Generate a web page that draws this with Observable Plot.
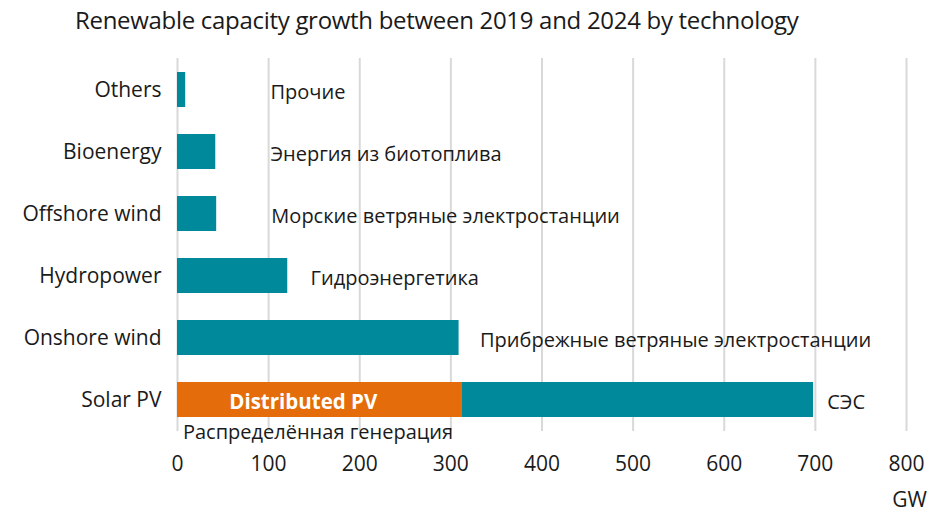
<!DOCTYPE html>
<html><head><meta charset="utf-8">
<script src="https://cdn.jsdelivr.net/npm/d3@7"></script>
<script src="https://cdn.jsdelivr.net/npm/@observablehq/plot@0.6"></script>
<style>
html,body{margin:0;padding:0;background:#fff;}
#wrap{position:relative;width:931px;height:513px;font-family:"Open Sans",sans-serif;}
#title{position:absolute;left:75px;top:3px;font-size:24px;color:#1a1a1a;white-space:nowrap;letter-spacing:-0.3px;}
#chart{position:absolute;left:0;top:0;}
</style></head>
<body><div id="wrap"><div id="chart"></div><div id="title">Renewable capacity growth between 2019 and 2024 by technology</div></div>
<script>
const technologies = ["Others","Bioenergy","Offshore wind","Hydropower","Onshore wind","Solar PV"];
const totals = [9, 42, 43, 121, 309, 698];
const distributedPV = 312;
const ruLabels = ["Прочие","Энергия из биотоплива","Морские ветряные электростанции","Гидроэнергетика","Прибрежные ветряные электростанции","СЭС"];
const labelAt = [102, 102, 103, 146, 332, 713];
const xTicks = [0,100,200,300,400,500,600,700,800];

const teal = "#00899b", orange = "#e46c0a";
const bars = technologies.map((t,i) => (t === "Solar PV"
  ? [{tech:t, x1:0, x2:distributedPV, c:orange},{tech:t, x1:distributedPV, x2:totals[i], c:teal}]
  : [{tech:t, x1:0, x2:totals[i], c:teal}])).flat();
const labels = technologies.map((t,i) => ({tech:t, x:labelAt[i], text:ruLabels[i]}));

const chart = Plot.plot({
  width: 931, height: 513,
  marginTop: 58, marginBottom: 82, marginLeft: 177, marginRight: 25,
  style: {fontFamily: "Open Sans, sans-serif", color: "#1a1a1a"},
  x: {domain: [0, 800], ticks: xTicks, label: null},
  y: {domain: technologies, paddingInner: 0.44, paddingOuter: 0.22, label: null},
  marks: [
    Plot.gridX(xTicks, {stroke: "#d9d9d9", strokeOpacity: 1, strokeWidth: 2}),
    Plot.barX(bars, {y: "tech", x1: "x1", x2: "x2", fill: "c", insetTop: 0, insetBottom: 0}),
    Plot.text(labels, {y: "tech", x: "x", text: "text", textAnchor: "start", dy: 3, fontSize: 20, fill: "#1a1a1a"}),
    Plot.text(["Distributed PV"], {x: 138, y: ["Solar PV"], text: d => d, dy: 2, fill: "white", fontWeight: "bold", fontSize: 20.5}),
    Plot.text(["Распределённая генерация"], {x: 6, y: ["Solar PV"], text: d => d, textAnchor: "start", dy: 33, fontSize: 20, fill: "#1a1a1a"}),
    Plot.text(["GW"], {x: 800, frameAnchor: "bottom", text: d => d, dy: 75, dx: 3, fontSize: 21, fill: "#1a1a1a"}),
    Plot.axisX({ticks: xTicks, tickSize: 0, tickPadding: 25, fontSize: 21, label: null, tickFormat: d => d}),
    Plot.axisY({tickSize: 0, tickPadding: 16, fontSize: 21, label: null})
  ]
});
document.getElementById("chart").appendChild(chart);
</script></body></html>
